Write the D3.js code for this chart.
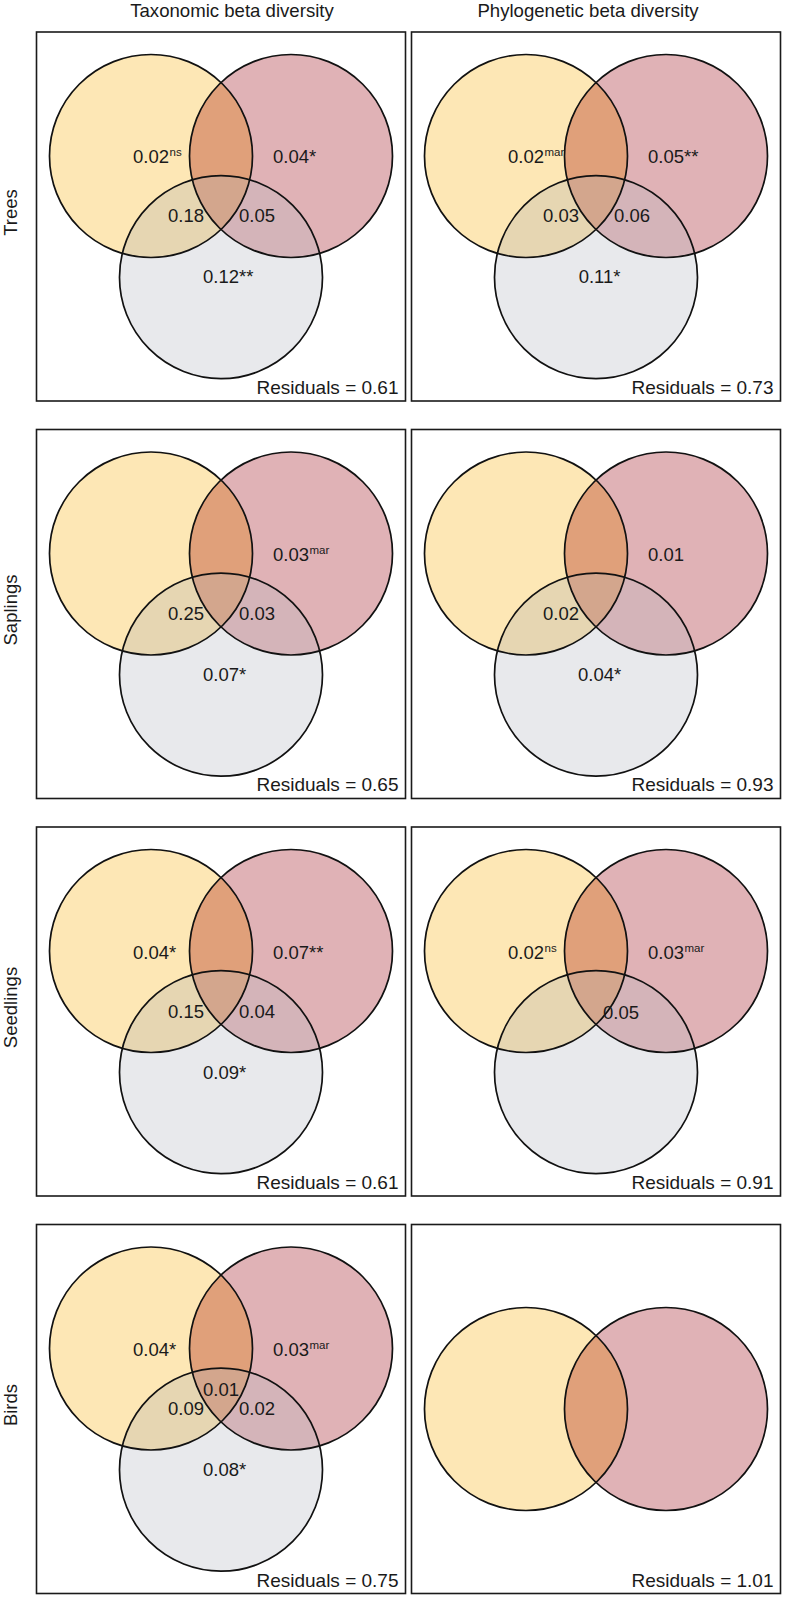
<!DOCTYPE html>
<html><head><meta charset="utf-8">
<script src="https://cdn.jsdelivr.net/npm/d3@7"></script>
<style>
body{margin:0;background:#fff}
text{font-family:"Liberation Sans",Arial,Helvetica,sans-serif;fill:#1a1a1a}
</style>
</head><body>
<svg id="chart" width="785" height="1599"></svg>
<script>
// ---------------- DATA ----------------
const rowLabels = ["Trees", "Saplings", "Seedlings", "Birds"];
const colLabels = ["Taxonomic beta diversity", "Phylogenetic beta diversity"];
const residuals = [[0.61, 0.73], [0.65, 0.93], [0.61, 0.91], [0.75, 1.01]];
const setCount = [[3, 3], [3, 3], [3, 3], [3, 2]];
// region fractions: [region, value, significance]
const treesTax     = [["Y", 0.02, "ns"], ["R", 0.04, "*"], ["YG", 0.18, ""], ["RG", 0.05, ""], ["G", 0.12, "**"]];
const treesPhy     = [["Y", 0.02, "mar"], ["R", 0.05, "**"], ["YG", 0.03, ""], ["RG", 0.06, ""], ["G", 0.11, "*"]];
const saplingsTax  = [["R", 0.03, "mar"], ["YG", 0.25, ""], ["RG", 0.03, ""], ["G", 0.07, "*"]];
const saplingsPhy  = [["R", 0.01, ""], ["YG", 0.02, ""], ["G", 0.04, "*"]];
const seedlingsTax = [["Y", 0.04, "*"], ["R", 0.07, "**"], ["YG", 0.15, ""], ["RG", 0.04, ""], ["G", 0.09, "*"]];
const seedlingsPhy = [["Y", 0.02, "ns"], ["R", 0.03, "mar"], ["RGc", 0.05, ""]];
const birdsTax     = [["Y", 0.04, "*"], ["R", 0.03, "mar"], ["YRG", 0.01, ""], ["YG", 0.09, ""], ["RG", 0.02, ""], ["G", 0.08, "*"]];
const birdsPhy     = [];
const panelLabels = [[treesTax, treesPhy], [saplingsTax, saplingsPhy], [seedlingsTax, seedlingsPhy], [birdsTax, birdsPhy]];

// ---------------- STYLE / LAYOUT ----------------
const colors = {Y: "#FDE7B5", R: "#E0B2B6", G: "#E8E9EC", YR: "#E0A07A", YG: "#E6D6B2", RG: "#D4B4B9", YRG: "#D3A68D"};
const R = 101.5;
const circles3 = {Y: [-70, -60.5], R: [70, -60.5], G: [0, 60.7]};
const circles2 = {Y: [-70, 0], R: [70, 0]};
const labelPos = {Y: [-70, -53], R: [70, -53], G: [0, 67], YG: [-35, 6], RG: [36, 6], YRG: [0, -13], RGc: [25, 7]};

const svg = d3.select("#chart");
const xBand = d3.scaleBand().domain(d3.range(colLabels.length)).range([36.5, 780.5]).paddingInner(0.016);
const yBand = d3.scaleBand().domain(d3.range(rowLabels.length)).range([32, 1593.5]).paddingInner(0.0717);

const defs = svg.append("defs");

// column titles
const titleX = [232, 588];
colLabels.forEach((t, c) => {
  svg.append("text").attr("x", titleX[c]).attr("y", 17).attr("text-anchor", "middle")
    .style("font-size", "18.6px").text(t);
});
// row labels
rowLabels.forEach((t, r) => {
  const cy = yBand(r) + yBand.bandwidth() / 2 - 4;
  svg.append("text").attr("transform", `translate(16.5,${cy}) rotate(-90)`)
    .attr("text-anchor", "middle").style("font-size", "18.5px").text(t);
});

rowLabels.forEach((rl, r) => {
  colLabels.forEach((cl, c) => {
    const x0 = xBand(c), y0 = yBand(r), w = xBand.bandwidth(), h = yBand.bandwidth();
    const sx = d3.scaleLinear().domain([-w / 2, w / 2]).range([x0, x0 + w]);
    const sy = d3.scaleLinear().domain([-h / 2, h / 2]).range([y0, y0 + h]);
    const g = svg.append("g");
    const circ = setCount[r][c] === 3 ? circles3 : circles2;
    const keys = Object.keys(circ);
    const id = k => `clip-${r}-${c}-${k}`;
    keys.forEach(k => {
      defs.append("clipPath").attr("id", id(k)).append("circle")
        .attr("cx", sx(circ[k][0])).attr("cy", sy(circ[k][1])).attr("r", R);
    });
    const addCircle = (sel, k, fill) => sel.append("circle")
      .attr("cx", sx(circ[k][0])).attr("cy", sy(circ[k][1])).attr("r", R).attr("fill", fill);
    // base fills
    keys.forEach(k => addCircle(g, k, colors[k]));
    // pairwise overlaps
    const pairs = [["Y", "R", "YR"], ["Y", "G", "YG"], ["R", "G", "RG"]];
    pairs.forEach(([a, b, name]) => {
      if (circ[a] && circ[b]) addCircle(g, a, colors[name]).attr("clip-path", `url(#${id(b)})`);
    });
    if (keys.length === 3) {
      const tg = g.append("g").attr("clip-path", `url(#${id("G")})`);
      addCircle(tg, "Y", colors.YRG).attr("clip-path", `url(#${id("R")})`);
    }
    // outlines
    keys.forEach(k => addCircle(g, k, "none").attr("stroke", "#111").attr("stroke-width", 1.7));
    // panel frame
    g.append("rect").attr("x", x0).attr("y", y0).attr("width", w).attr("height", h)
      .attr("fill", "none").attr("stroke", "#1a1a1a").attr("stroke-width", 1.6);
    // region labels
    panelLabels[r][c].forEach(([reg, val, sig]) => {
      const p = labelPos[reg];
      const t = g.append("text").attr("x", sx(p[0])).attr("y", sy(p[1]))
        .attr("text-anchor", "middle").style("font-size", "18.5px").text(val.toFixed(2));
      if (sig) {
        const len = t.node().getComputedTextLength();
        const sup = sig === "ns" || sig === "mar";
        g.append("text").attr("x", sx(p[0]) + len / 2 + (sup ? 0.5 : 0)).attr("y", sy(p[1]) + (sup ? -7 : 0))
          .attr("text-anchor", "start").style("font-size", sup ? "11.5px" : "18.5px").text(sig);
      }
    });
    // residuals
    g.append("text").attr("x", x0 + w - 7).attr("y", y0 + h - 7).attr("text-anchor", "end")
      .style("font-size", "19px").text(`Residuals = ${residuals[r][c].toFixed(2)}`);
  });
});
</script>
</body></html>
